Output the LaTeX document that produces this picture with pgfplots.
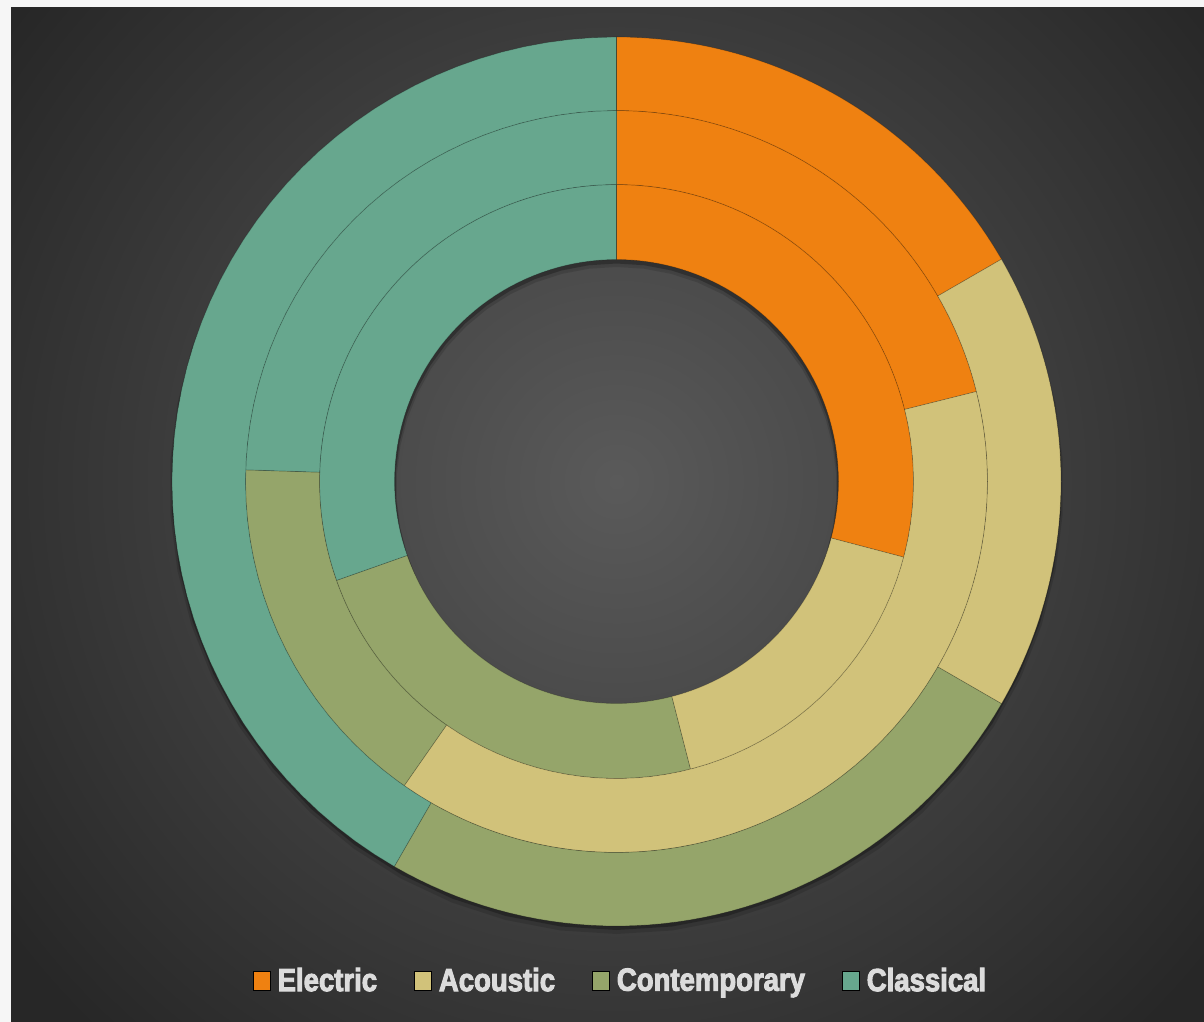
\documentclass[border=0pt]{standalone}
\usepackage{pgfplots}
\usepackage{pgfplotstable}
\usepackage{fontspec}
\pgfplotsset{compat=1.18}
\newfontfamily\legfont{Liberation Sans}[FakeStretch=0.86, BoldFeatures={FakeBold=3}]

\definecolor{seg0}{RGB}{239,129,17}   % Electric
\definecolor{seg1}{RGB}{209,194,122}  % Acoustic
\definecolor{seg2}{RGB}{149,165,106}  % Contemporary
\definecolor{seg3}{RGB}{103,167,142}  % Classical
\definecolor{legtext}{RGB}{220,220,220}
\definecolor{pageedge}{RGB}{246,246,246}
\definecolor{bginner}{RGB}{90,90,90}
\definecolor{bgouter}{RGB}{39,39,39}

% shares per ring (inner, middle, outer)
\pgfplotstableread{
category     inner middle outer
Electric     29.1  21.1   20
Acoustic     16.9  38.6   20
Contemporary 23.6  15.8   30
Classical    30.4  24.5   50
}\rings

\pgfplotsset{
  segment/.style={
    domain=0:4, samples=201, variable=\t, forget plot, no markers,
    draw=black, draw opacity=0.22, line width=0.35pt},
}

% #1 column, #2 inner radius, #3 outer radius (pixels)
\newcommand\drawring[3]{%
  \def\ringtotal{0}%
  \pgfplotsforeachungrouped \segidx in {0,...,3}{%
    \pgfplotstablegetelem{\segidx}{#1}\of\rings
    \pgfmathsetmacro\ringtotal{\ringtotal+\pgfplotsretval}%
  }%
  \def\angA{0}%
  \pgfplotsforeachungrouped \segidx in {0,...,3}{%
    \pgfplotstablegetelem{\segidx}{#1}\of\rings
    \pgfmathsetmacro\angB{\angA+(\pgfplotsretval/\ringtotal)*360}%
    \edef\doseg{\noexpand\addplot[segment, fill=seg\segidx]
      ({616.5+segrad(\noexpand\t,#2,#3)*sin(segang(\noexpand\t,\angA,\angB))},
       {481.5-segrad(\noexpand\t,#2,#3)*cos(segang(\noexpand\t,\angA,\angB))});}%
    \doseg
    \let\angA\angB
  }%
}

\begin{document}
\begin{tikzpicture}
\begin{axis}[
  scale only axis, width=602pt, height=511pt,
  xmin=0, xmax=1204, ymin=0, ymax=1022, y dir=reverse,
  hide axis,
  declare function={
    segang(\t,\a,\b)=\a+(\b-\a)*(min(\t,1)-max(min(\t-2,1),0));
    segrad(\t,\p,\q)=\q-(\q-\p)*min(max(\t-1,0),1)+(\q-\p)*max(\t-3,0);
  },
  legend columns=4,
  legend image code/.code={\fill[#1] (0pt,-4.75pt) rectangle (8.5pt,4.75pt);},
  legend style={at={(axis cs:621.5,981)}, anchor=center, draw=none, fill=none,
    font=\legfont\bfseries\fontsize{16}{18}\selectfont, text=legtext,
    /tikz/every odd column/.append style={column sep=1.5pt},
    /tikz/every even column/.append style={column sep=16.5pt}},
]
\fill[pageedge] (axis cs:0,0) rectangle (axis cs:1204,1022);
\begin{pgfinterruptboundingbox}
\begin{scope}
  \clip (axis cs:11,8) rectangle (axis cs:1204,1022);
  \shade[inner color=bginner, outer color=bgouter]
    (axis cs:-143.5,-278.5) rectangle (axis cs:1376.5,1241.5);
\end{scope}
\end{pgfinterruptboundingbox}

% soft shadow under the doughnut
\addplot[segment, draw=none, fill=black, fill opacity=0.12]
  ({616.5+segrad(\t,220,447)*sin(segang(\t,0,360))},
   {487-segrad(\t,220,447)*cos(segang(\t,0,360))});
\addplot[segment, draw=none, fill=black, fill opacity=0.25]
  ({616.5+segrad(\t,221,445.5)*sin(segang(\t,0,360))},
   {484.5-segrad(\t,221,445.5)*cos(segang(\t,0,360))});

\drawring{inner}{222}{297}
\drawring{middle}{297}{371}
\drawring{outer}{371}{444.5}

\addlegendimage{fill=seg0}\addlegendentry{Electric}
\addlegendimage{fill=seg1}\addlegendentry{Acoustic}
\addlegendimage{fill=seg2}\addlegendentry{Contemporary}
\addlegendimage{fill=seg3}\addlegendentry{Classical}
\end{axis}
\end{tikzpicture}
\end{document}
